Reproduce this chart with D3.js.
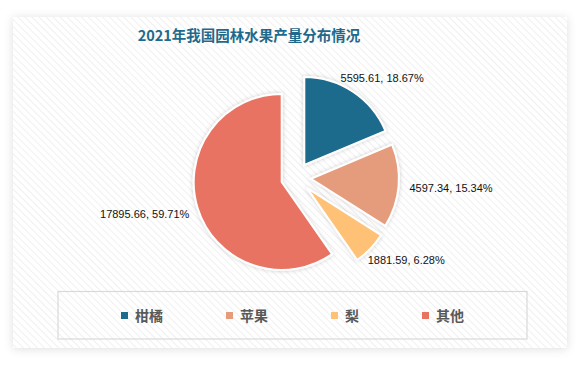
<!DOCTYPE html>
<html lang="zh">
  <head>
    <meta charset="UTF-8" />
    <title>2021年我国园林水果产量分布情况</title>
    <script src="https://d3js.org/d3.v7.min.js"></script>
    <style>
      body {
        margin: 0;
        background: #fff;
      }
      svg {
        display: block;
      }
      .title {
        font-family: "Noto Sans CJK SC", "Liberation Sans", sans-serif;
        font-size: 14.5px;
        font-weight: bold;
        fill: #1f6a8c;
      }
      .label {
        font-family: "Liberation Sans", Arial, sans-serif;
        font-size: 11px;
        fill: #111;
      }
      .legend-text {
        font-family: "Noto Sans CJK SC", sans-serif;
        font-size: 14px;
        font-weight: bold;
        fill: #595959;
      }
    </style>
  </head>
  <body>
    <svg id="chart" width="578" height="375"></svg>

    <script>
      // datos
      const categories = ["柑橘", "苹果", "梨", "其他"];
      const values = [5595.61, 4597.34, 1881.59, 17895.66];
      const colors = ["#1f6a8c", "#e59c7c", "#fec176", "#e87362"];
      const titleText = "2021年我国园林水果产量分布情况";

      const svg = d3.select("#chart");
      const defs = svg.append("defs");

      // patrón de rayas diagonales del fondo
      const pat = defs
        .append("pattern")
        .attr("id", "hatch")
        .attr("width", 5)
        .attr("height", 5)
        .attr("patternUnits", "userSpaceOnUse")
        .attr("patternTransform", "rotate(-45)");
      pat.append("rect").attr("width", 5).attr("height", 5).attr("fill", "#fff");
      pat
        .append("line")
        .attr("x1", 0)
        .attr("y1", 0)
        .attr("x2", 0)
        .attr("y2", 5)
        .attr("stroke", "#ebebeb")
        .attr("stroke-width", 1.5);

      const cardShadow = defs
        .append("filter")
        .attr("id", "cardShadow")
        .attr("x", "-10%")
        .attr("y", "-10%")
        .attr("width", "120%")
        .attr("height", "120%");
      cardShadow
        .append("feDropShadow")
        .attr("dx", 0)
        .attr("dy", 1)
        .attr("stdDeviation", 5)
        .attr("flood-color", "#000")
        .attr("flood-opacity", 0.13);

      const sliceShadow = defs
        .append("filter")
        .attr("id", "sliceShadow")
        .attr("x", "-20%")
        .attr("y", "-20%")
        .attr("width", "140%")
        .attr("height", "140%");
      sliceShadow
        .append("feDropShadow")
        .attr("dx", 0)
        .attr("dy", 0)
        .attr("stdDeviation", 2)
        .attr("flood-color", "#000")
        .attr("flood-opacity", 0.2);

      // tarjeta
      svg
        .append("rect")
        .attr("x", 13)
        .attr("y", 17)
        .attr("width", 554)
        .attr("height", 331)
        .attr("fill", "url(#hatch)")
        .attr("filter", "url(#cardShadow)");

      // título
      svg
        .append("text")
        .attr("class", "title")
        .attr("x", 249)
        .attr("y", 40.5)
        .attr("text-anchor", "middle")
        .text(titleText);

      // pastel
      const cx = 296,
        cy = 177.5;
      const radius = 88;
      const explode = 15;
      const labelR = radius + explode + 11;

      const pie = d3.pie().sort(null).value((d) => d);
      const arcs = pie(values);
      const arc = d3.arc().innerRadius(0).outerRadius(radius);
      const total = d3.sum(values);
      const pct = d3.format(".2%");
      const num = d3.format(".2f");

      const gPie = svg
        .append("g")
        .attr("transform", `translate(${cx},${cy})`);

      const dir = (d) => {
        const a = (d.startAngle + d.endAngle) / 2;
        return [Math.sin(a), -Math.cos(a)];
      };

      gPie
        .selectAll(".slice")
        .data(arcs)
        .join("path")
        .attr("class", "slice")
        .attr("d", arc)
        .attr("fill", (d, i) => colors[i])
        .attr("stroke", "#fff")
        .attr("stroke-width", 2)
        .attr("stroke-linejoin", "miter")
        .attr("filter", "url(#sliceShadow)")
        .attr("transform", (d) => {
          const [ux, uy] = dir(d);
          return `translate(${ux * explode},${uy * explode})`;
        });

      // etiquetas
      const labels = gPie
        .selectAll(".label")
        .data(arcs)
        .join("text")
        .attr("class", "label")
        .attr("text-anchor", "middle")
        .attr("dominant-baseline", "central")
        .text((d) => `${num(d.data)}, ${pct(d.data / total)}`);

      labels.each(function (d) {
        const w = this.getComputedTextLength();
        const h = 12;
        const [ux, uy] = dir(d);
        const x = ux * labelR + (ux * w) / 2;
        const y = uy * labelR + (uy * h) / 2;
        d3.select(this).attr("x", x).attr("y", y);
      });

      // leyenda
      svg
        .append("rect")
        .attr("x", 58)
        .attr("y", 291.5)
        .attr("width", 469)
        .attr("height", 47.5)
        .attr("fill", "none")
        .attr("stroke", "#d9d9d9")
        .attr("stroke-width", 1.2);

      const gLeg = svg.append("g");
      const items = gLeg
        .selectAll(".item")
        .data(categories)
        .join("g")
        .attr("class", "item");

      items
        .append("rect")
        .attr("width", 7)
        .attr("height", 7)
        .attr("y", 312)
        .attr("fill", (d, i) => colors[i]);

      items
        .append("text")
        .attr("class", "legend-text")
        .attr("x", 14)
        .attr("y", 315)
        .attr("dominant-baseline", "central")
        .text((d) => d);

      const gap = 63;
      const widths = [];
      items.each(function () {
        widths.push(14 + d3.select(this).select("text").node().getComputedTextLength());
      });
      const totalW = d3.sum(widths) + gap * (widths.length - 1);
      let xPos = 292.5 - totalW / 2;
      items.each(function (d, i) {
        d3.select(this).attr("transform", `translate(${xPos},0)`);
        xPos += widths[i] + gap;
      });
    </script>
  </body>
</html>
